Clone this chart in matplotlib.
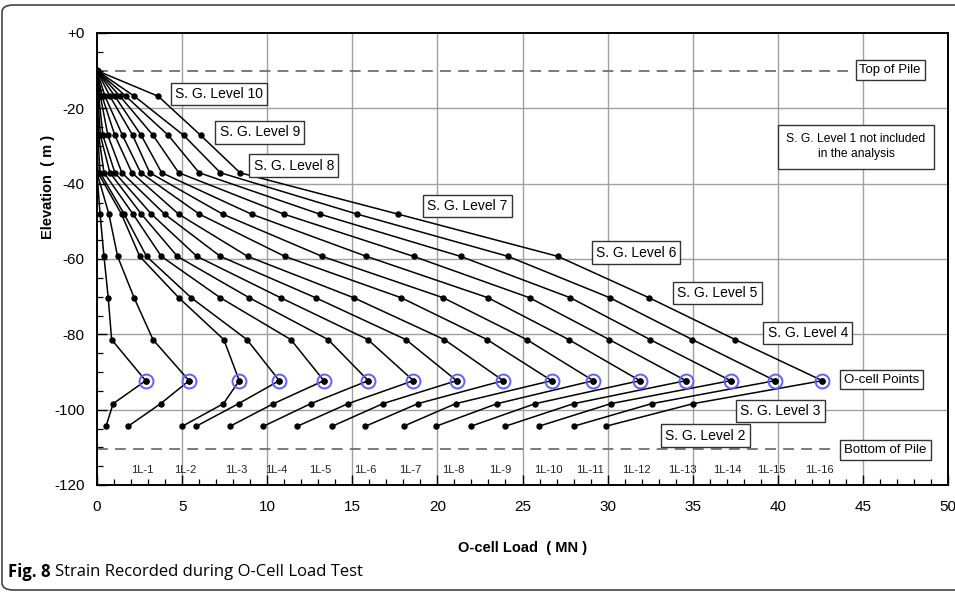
import matplotlib
matplotlib.use("Agg")
import matplotlib.pyplot as plt
from matplotlib.patches import FancyBboxPatch
from matplotlib.ticker import MultipleLocator, FixedLocator

# ---------------- data ----------------
tests = ["1L-1", "1L-2", "1L-3", "1L-4", "1L-5", "1L-6", "1L-7", "1L-8",
         "1L-9", "1L-10", "1L-11", "1L-12", "1L-13", "1L-14", "1L-15", "1L-16"]

elev_top = -10.0
elev_l10 = -16.8
elev_l9 = -27.2
elev_l8 = -37.1
elev_l7 = -48.1
elev_l6 = -59.3
elev_l5 = -70.3
elev_l4 = -81.4
elev_ocell = -92.3
elev_l3 = -98.4
elev_l2 = -104.4
elev_bottom = -110.5

load_top = [0.0] * 16
load_l10 = [0, 0, 0, 0, 0, 0.05, 0.1, 0.2, 0.3, 0.47, 0.76, 1.05, 1.35, 1.7, 2.2, 3.6]
load_l9 = [0, 0, 0, 0.05, 0.1, 0.2, 0.35, 0.64, 1.05, 1.5, 2.1, 2.6, 3.3, 4.2, 5.1, 6.1]
load_l8 = [0, 0, 0.06, 0.18, 0.41, 0.76, 1.05, 1.46, 2.05, 2.57, 3.1, 3.8, 4.8, 6.0, 7.25, 8.4]
load_l7 = [0.18, 0.70, 1.44, 1.60, 2.12, 2.61, 3.2, 3.98, 4.8, 6.02, 7.39, 9.08, 10.99, 13.1, 15.3, 17.7]
load_l6 = [0.41, 1.21, 2.51, 2.91, 3.78, 4.72, 5.87, 7.25, 8.85, 11.03, 13.23, 15.83, 18.6, 21.36, 24.15, 27.08]
load_l5 = [0.66, 2.18, 4.81, 5.54, 7.25, 8.95, 10.8, 12.85, 15.09, 17.88, 20.35, 22.98, 25.42, 27.82, 30.14, 32.44]
load_l4 = [0.86, 3.29, 7.45, 8.81, 11.39, 13.58, 15.92, 18.15, 20.41, 22.92, 25.25, 27.72, 30.1, 32.5, 34.98, 37.5]
load_ocell = [2.86, 5.41, 8.36, 10.71, 13.33, 15.94, 18.59, 21.13, 23.87, 26.71, 29.16, 31.9, 34.6, 37.23, 39.84, 42.62]
load_l3 = [0.95, 3.74, 7.43, 8.32, 10.37, 12.56, 14.75, 16.8, 18.85, 21.07, 23.51, 25.75, 28.01, 30.19, 32.59, 35.03]
load_l2 = [0.53, 1.83, 5.01, 5.83, 7.82, 9.78, 11.77, 13.82, 15.77, 18.01, 19.92, 21.97, 23.99, 25.96, 28.01, 29.9]

x_ticks = [0, 5, 10, 15, 20, 25, 30, 35, 40, 45, 50]
y_ticks = [0, -20, -40, -60, -80, -100, -120]
y_tick_labels = ["+0", "-20", "-40", "-60", "-80", "-100", "-120"]

# ---------------- figure ----------------
FONT = ["Liberation Sans", "DejaVu Sans"]
plt.rcParams["font.family"] = FONT

fig = plt.figure(figsize=(9.55, 5.93), dpi=100)
ax = fig.add_axes([97 / 955, 1 - 485 / 593, (948 - 97) / 955, (485 - 33) / 593])

# grid
for xv in x_ticks[1:-1]:
    ax.axvline(xv, color="#a0a0a0", lw=1.0, zorder=0)
for yv in y_ticks[1:-1]:
    ax.axhline(yv, color="#a0a0a0", lw=1.0, zorder=0)

# pile top / bottom dashed lines
ax.plot([0, 44.5], [elev_top, elev_top], ls=(0, (6, 4)), color="#707070", lw=1.3, zorder=1)
ax.plot([0, 43.5], [elev_bottom, elev_bottom], ls=(0, (6, 4)), color="#707070", lw=1.3, zorder=1)

upper_elev = [elev_top, elev_l10, elev_l9, elev_l8, elev_l7, elev_l6, elev_l5, elev_l4, elev_ocell]
lower_elev = [elev_ocell, elev_l3, elev_l2]

for i in range(len(tests)):
    up = [load_top[i], load_l10[i], load_l9[i], load_l8[i], load_l7[i],
          load_l6[i], load_l5[i], load_l4[i], load_ocell[i]]
    lo = [load_ocell[i], load_l3[i], load_l2[i]]
    ax.plot(up, upper_elev, color="black", lw=1.1, marker="o", ms=3.6, zorder=3)
    ax.plot(lo, lower_elev, color="black", lw=1.1, marker="o", ms=3.6, zorder=3)

# O-cell points
ax.plot(load_ocell, [elev_ocell] * 16, ls="none", marker="o", ms=10, mfc="none",
        mec="#6060ff", mew=1.4, zorder=4)
ax.plot([0], [elev_top], ls="none", marker="o", ms=5, color="black", zorder=4)

# test labels
for i, name in enumerate(tests):
    ax.text(load_ocell[i] - 0.2, -115.9, name, ha="center", va="center",
            fontsize=8, color="#222222")

# annotation boxes
box = dict(boxstyle="square,pad=0.3", fc="white", ec="#333333", lw=1.0)
notes = [
    (4.6, -16.2, "S. G. Level 10"),
    (7.2, -26.4, "S. G. Level 9"),
    (9.2, -35.2, "S. G. Level 8"),
    (19.4, -46.0, "S. G. Level 7"),
    (29.3, -58.3, "S. G. Level 6"),
    (34.1, -69.0, "S. G. Level 5"),
    (39.4, -79.6, "S. G. Level 4"),
    (37.8, -100.3, "S. G. Level 3"),
    (33.4, -106.9, "S. G. Level 2"),
]
for x, y, t in notes:
    ax.text(x, y, t, ha="left", va="center", fontsize=10, bbox=box, zorder=5)
ax.text(43.9, -92.0, "O-cell Points", ha="left", va="center", fontsize=9.5, bbox=box, zorder=5)
ax.text(44.8, -9.8, "Top of Pile", ha="left", va="center", fontsize=9.5, bbox=box, zorder=5)
ax.text(43.9, -110.6, "Bottom of Pile", ha="left", va="center", fontsize=9.5, bbox=box, zorder=5)
ax.text(44.6, -30.2, "S. G. Level 1 not included\nin the analysis", ha="center", va="center",
        fontsize=8.7, bbox=dict(boxstyle="square,pad=0.7", fc="white", ec="#333333", lw=1.0),
        zorder=5, linespacing=1.3)

# axes styling
ax.set_xlim(0, 50)
ax.set_ylim(-120, 0)
ax.xaxis.set_major_locator(FixedLocator(x_ticks))
ax.yaxis.set_major_locator(FixedLocator(y_ticks))
ax.set_xticklabels([str(v) for v in x_ticks])
ax.set_yticklabels(y_tick_labels)
ax.xaxis.set_minor_locator(MultipleLocator(1))
ax.yaxis.set_minor_locator(MultipleLocator(5))
ax.tick_params(which="major", direction="in", length=7, width=1.0, labelsize=11, pad=9)
ax.tick_params(which="minor", direction="in", length=4, width=0.9)
ax.tick_params(axis="x", pad=11)
for s in ax.spines.values():
    s.set_linewidth(1.4)
    s.set_color("black")

ax.set_xlabel("O-cell Load  ( MN )", fontsize=10.5, fontweight="bold")
ax.set_ylabel("Elevation  ( m )", fontsize=10.5, fontweight="bold")
ax.xaxis.set_label_coords(0.5, -(541 - 485) / 452)
ax.yaxis.set_label_coords(-(97 - 55) / 851, 0.66)

# outer rounded frame
frame = FancyBboxPatch((2 / 955, 3 / 593), 1.2, 1 - 8 / 593,
                       boxstyle="round,pad=0,rounding_size=0.012",
                       transform=fig.transFigure, fc="none", ec="#444444", lw=1.2,
                       clip_on=False)
fig.patches.append(frame)

# caption
cap_font = ["Open Sans", "DejaVu Sans"]
t1 = fig.text(8 / 955, 1 - 572 / 593, "Fig. 8", fontsize=12, fontweight="bold",
              family=cap_font, va="center", ha="left")
fig.canvas.draw()
r = fig.canvas.get_renderer()
bb = t1.get_window_extent(renderer=r)
fig.text((bb.x1 + 4) / 955, 1 - 572 / 593, "Strain Recorded during O-Cell Load Test",
         fontsize=12, family=cap_font, va="center", ha="left")

fig.savefig("out.png", dpi=100)
